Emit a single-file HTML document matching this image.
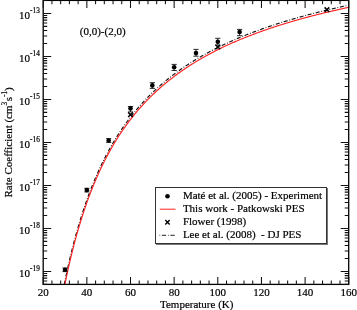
<!DOCTYPE html><html><head><meta charset="utf-8"><style>html,body{margin:0;padding:0;background:#fff;width:357px;height:310px;overflow:hidden}svg{display:block;filter:blur(0.35px)}text{font-family:"Liberation Serif",serif;fill:#000;stroke:#000;stroke-width:0.2px}</style></head><body>
<svg width="357" height="310" viewBox="0 0 357 310">
<defs><clipPath id="c"><rect x="43.2" y="0" width="305.5" height="284.4"/></clipPath></defs>
<g clip-path="url(#c)" fill="none">
<path d="M62.84,292.77 L63.39,289.93 L63.93,287.14 L64.48,284.39 L65.03,281.68 L65.57,279.02 L66.12,276.41 L66.66,273.83 L67.21,271.29 L67.75,268.79 L68.30,266.34 L68.84,263.91 L69.39,261.53 L69.94,259.18 L70.48,256.87 L71.03,254.59 L71.57,252.34 L72.12,250.13 L72.66,247.95 L73.21,245.80 L73.75,243.68 L74.30,241.60 L74.85,239.54 L75.39,237.51 L75.94,235.50 L76.48,233.53 L77.03,231.58 L77.57,229.66 L78.12,227.76 L78.67,225.89 L79.21,224.05 L79.76,222.23 L80.30,220.43 L80.85,218.65 L81.39,216.90 L81.94,215.17 L82.49,213.47 L83.03,211.78 L83.58,210.12 L84.12,208.48 L84.67,206.85 L85.21,205.25 L85.76,203.67 L86.30,202.10 L86.85,200.56 L87.40,199.03 L87.94,197.52 L88.49,196.03 L89.03,194.56 L89.58,193.10 L90.12,191.66 L90.67,190.24 L91.22,188.83 L91.76,187.44 L92.31,186.07 L92.85,184.71 L93.40,183.37 L93.94,182.04 L94.49,180.72 L95.03,179.42 L95.58,178.14 L96.13,176.87 L96.67,175.61 L97.22,174.37 L97.76,173.14 L98.31,171.92 L98.85,170.71 L99.40,169.52 L99.95,168.34 L100.49,167.17 L101.04,166.02 L101.58,164.87 L102.13,163.74 L102.67,162.62 L103.22,161.51 L103.76,160.41 L104.31,159.33 L104.86,158.25 L105.40,157.18 L105.95,156.13 L106.49,155.08 L107.04,154.05 L107.58,153.03 L108.13,152.01 L108.68,151.01 L109.22,150.01 L109.77,149.02 L110.31,148.05 L110.86,147.08 L111.40,146.12 L111.95,145.17 L112.49,144.23 L113.04,143.30 L113.59,142.37 L114.13,141.46 L114.68,140.55 L115.22,139.65 L115.77,138.76 L116.31,137.88 L116.86,137.00 L117.41,136.14 L117.95,135.28 L118.50,134.42 L119.04,133.58 L119.59,132.74 L120.13,131.91 L120.68,131.09 L121.22,130.27 L121.77,129.46 L122.32,128.66 L122.86,127.86 L123.41,127.08 L123.95,126.29 L124.50,125.52 L125.04,124.75 L125.59,123.99 L126.14,123.23 L126.68,122.48 L127.23,121.73 L127.77,120.99 L128.32,120.26 L128.86,119.54 L129.41,118.81 L129.95,118.10 L130.50,117.39 L131.05,116.69 L131.59,115.99 L132.14,115.29 L132.68,114.61 L133.23,113.93 L133.77,113.25 L134.32,112.58 L134.87,111.91 L135.41,111.25 L135.96,110.59 L136.50,109.94 L137.05,109.29 L137.59,108.65 L138.14,108.01 L138.68,107.38 L139.23,106.75 L139.78,106.13 L140.32,105.51 L140.87,104.90 L141.41,104.29 L141.96,103.68 L142.50,103.08 L143.05,102.49 L143.60,101.90 L144.14,101.31 L144.69,100.72 L145.23,100.14 L145.78,99.57 L146.32,99.00 L146.87,98.43 L147.41,97.87 L147.96,97.31 L148.51,96.75 L149.05,96.20 L149.60,95.65 L150.14,95.11 L150.69,94.57 L151.23,94.03 L151.78,93.50 L152.32,92.97 L152.87,92.44 L153.42,91.92 L153.96,91.40 L154.51,90.88 L155.05,90.37 L155.60,89.86 L156.14,89.35 L156.69,88.85 L157.24,88.35 L157.78,87.86 L158.33,87.36 L158.87,86.87 L159.42,86.39 L159.96,85.90 L160.51,85.42 L161.06,84.95 L161.60,84.47 L162.15,84.00 L162.69,83.53 L163.24,83.07 L163.78,82.61 L164.33,82.15 L164.87,81.69 L165.42,81.24 L165.97,80.78 L166.51,80.34 L167.06,79.89 L167.60,79.45 L168.15,79.01 L168.69,78.57 L169.24,78.14 L169.79,77.70 L170.33,77.27 L170.88,76.85 L171.42,76.42 L171.97,76.00 L172.51,75.58 L173.06,75.16 L173.60,74.75 L174.15,74.34 L174.70,73.93 L175.24,73.52 L175.79,73.11 L176.33,72.71 L176.88,72.31 L177.42,71.91 L177.97,71.52 L178.51,71.12 L179.06,70.73 L179.61,70.34 L180.15,69.96 L180.70,69.57 L181.24,69.19 L181.79,68.81 L182.33,68.43 L182.88,68.05 L183.43,67.68 L183.97,67.31 L184.52,66.94 L185.06,66.57 L185.61,66.20 L186.15,65.84 L186.70,65.48 L187.25,65.12 L187.79,64.76 L188.34,64.40 L188.88,64.05 L189.43,63.69 L189.97,63.34 L190.52,62.99 L191.06,62.65 L191.61,62.30 L192.16,61.96 L192.70,61.62 L193.25,61.28 L193.79,60.94 L194.34,60.60 L194.88,60.27 L195.43,59.94 L195.98,59.61 L196.52,59.28 L197.07,58.95 L197.61,58.62 L198.16,58.30 L198.70,57.98 L199.25,57.66 L199.79,57.34 L200.34,57.02 L200.89,56.70 L201.43,56.39 L201.98,56.08 L202.52,55.76 L203.07,55.45 L203.61,55.15 L204.16,54.84 L204.70,54.53 L205.25,54.23 L205.80,53.93 L206.34,53.63 L206.89,53.33 L207.43,53.03 L207.98,52.73 L208.52,52.44 L209.07,52.14 L209.62,51.85 L210.16,51.56 L210.71,51.27 L211.25,50.98 L211.80,50.70 L212.34,50.41 L212.89,50.13 L213.44,49.84 L213.98,49.56 L214.53,49.28 L215.07,49.00 L215.62,48.73 L216.16,48.45 L216.71,48.18 L217.25,47.90 L217.80,47.63 L218.35,47.36 L218.89,47.09 L219.44,46.82 L219.98,46.55 L220.53,46.29 L221.07,46.02 L221.62,45.76 L222.17,45.50 L222.71,45.23 L223.26,44.97 L223.80,44.71 L224.35,44.46 L224.89,44.20 L225.44,43.94 L225.98,43.69 L226.53,43.44 L227.08,43.18 L227.62,42.93 L228.17,42.68 L228.71,42.43 L229.26,42.19 L229.80,41.94 L230.35,41.69 L230.90,41.45 L231.44,41.21 L231.99,40.96 L232.53,40.72 L233.08,40.48 L233.62,40.24 L234.17,40.00 L234.71,39.77 L235.26,39.53 L235.81,39.29 L236.35,39.06 L236.90,38.83 L237.44,38.59 L237.99,38.36 L238.53,38.13 L239.08,37.90 L239.62,37.67 L240.17,37.45 L240.72,37.22 L241.26,36.99 L241.81,36.77 L242.35,36.54 L242.90,36.32 L243.44,36.10 L243.99,35.88 L244.54,35.66 L245.08,35.44 L245.63,35.22 L246.17,35.00 L246.72,34.79 L247.26,34.57 L247.81,34.35 L248.36,34.14 L248.90,33.93 L249.45,33.71 L249.99,33.50 L250.54,33.29 L251.08,33.08 L251.63,32.87 L252.17,32.66 L252.72,32.46 L253.27,32.25 L253.81,32.04 L254.36,31.84 L254.90,31.64 L255.45,31.43 L255.99,31.23 L256.54,31.03 L257.09,30.83 L257.63,30.63 L258.18,30.43 L258.72,30.23 L259.27,30.03 L259.81,29.83 L260.36,29.64 L260.90,29.44 L261.45,29.24 L262.00,29.05 L262.54,28.86 L263.09,28.66 L263.63,28.47 L264.18,28.28 L264.72,28.09 L265.27,27.90 L265.81,27.71 L266.36,27.52 L266.91,27.33 L267.45,27.15 L268.00,26.96 L268.54,26.77 L269.09,26.59 L269.63,26.40 L270.18,26.22 L270.73,26.04 L271.27,25.85 L271.82,25.67 L272.36,25.49 L272.91,25.31 L273.45,25.13 L274.00,24.95 L274.55,24.77 L275.09,24.60 L275.64,24.42 L276.18,24.24 L276.73,24.07 L277.27,23.89 L277.82,23.72 L278.36,23.54 L278.91,23.37 L279.46,23.20 L280.00,23.02 L280.55,22.85 L281.09,22.68 L281.64,22.51 L282.18,22.34 L282.73,22.17 L283.28,22.00 L283.82,21.83 L284.37,21.67 L284.91,21.50 L285.46,21.33 L286.00,21.17 L286.55,21.00 L287.09,20.84 L287.64,20.67 L288.19,20.51 L288.73,20.35 L289.28,20.18 L289.82,20.02 L290.37,19.86 L290.91,19.70 L291.46,19.54 L292.00,19.38 L292.55,19.22 L293.10,19.06 L293.64,18.90 L294.19,18.74 L294.73,18.59 L295.28,18.43 L295.82,18.28 L296.37,18.12 L296.92,17.96 L297.46,17.81 L298.01,17.66 L298.55,17.50 L299.10,17.35 L299.64,17.20 L300.19,17.04 L300.74,16.89 L301.28,16.74 L301.83,16.59 L302.37,16.44 L302.92,16.29 L303.46,16.14 L304.01,15.99 L304.55,15.85 L305.10,15.70 L305.65,15.55 L306.19,15.40 L306.74,15.26 L307.28,15.11 L307.83,14.97 L308.37,14.82 L308.92,14.68 L309.46,14.53 L310.01,14.39 L310.56,14.25 L311.10,14.10 L311.65,13.96 L312.19,13.82 L312.74,13.68 L313.28,13.54 L313.83,13.40 L314.38,13.26 L314.92,13.12 L315.47,12.98 L316.01,12.84 L316.56,12.70 L317.10,12.56 L317.65,12.43 L318.19,12.29 L318.74,12.15 L319.29,12.02 L319.83,11.88 L320.38,11.75 L320.92,11.61 L321.47,11.48 L322.01,11.34 L322.56,11.21 L323.11,11.07 L323.65,10.94 L324.20,10.81 L324.74,10.68 L325.29,10.55 L325.83,10.41 L326.38,10.28 L326.93,10.15 L327.47,10.02 L328.02,9.89 L328.56,9.76 L329.11,9.63 L329.65,9.51 L330.20,9.38 L330.74,9.25 L331.29,9.12 L331.84,8.99 L332.38,8.87 L332.93,8.74 L333.47,8.62 L334.02,8.49 L334.56,8.36 L335.11,8.24 L335.66,8.11 L336.20,7.99 L336.75,7.87 L337.29,7.74 L337.84,7.62 L338.38,7.50 L338.93,7.37 L339.47,7.25 L340.02,7.13 L340.57,7.01 L341.11,6.89 L341.66,6.77 L342.20,6.65 L342.75,6.53 L343.29,6.41 L343.84,6.29 L344.38,6.17 L344.93,6.05 L345.48,5.93 L346.02,5.81 L346.57,5.70 L347.11,5.58 L347.66,5.46 L348.20,5.34 L348.75,5.23" transform="translate(-0.2,0)" stroke="#111" stroke-width="1.15" stroke-dasharray="4,1.8,0.8,1.7"/>
<path d="M62.84,294.87 L63.39,292.03 L63.93,289.24 L64.48,286.49 L65.03,283.78 L65.57,281.12 L66.12,278.51 L66.66,275.93 L67.21,273.39 L67.75,270.89 L68.30,268.44 L68.84,266.01 L69.39,263.63 L69.94,261.28 L70.48,258.97 L71.03,256.69 L71.57,254.44 L72.12,252.23 L72.66,250.05 L73.21,247.90 L73.75,245.78 L74.30,243.70 L74.85,241.64 L75.39,239.61 L75.94,237.60 L76.48,235.63 L77.03,233.68 L77.57,231.76 L78.12,229.86 L78.67,227.99 L79.21,226.15 L79.76,224.33 L80.30,222.53 L80.85,220.75 L81.39,219.00 L81.94,217.27 L82.49,215.57 L83.03,213.88 L83.58,212.22 L84.12,210.58 L84.67,208.95 L85.21,207.35 L85.76,205.77 L86.30,204.20 L86.85,202.66 L87.40,201.13 L87.94,199.62 L88.49,198.13 L89.03,196.66 L89.58,195.20 L90.12,193.76 L90.67,192.34 L91.22,190.93 L91.76,189.54 L92.31,188.17 L92.85,186.81 L93.40,185.47 L93.94,184.14 L94.49,182.82 L95.03,181.52 L95.58,180.24 L96.13,178.97 L96.67,177.71 L97.22,176.47 L97.76,175.24 L98.31,174.02 L98.85,172.81 L99.40,171.62 L99.95,170.44 L100.49,169.27 L101.04,168.12 L101.58,166.97 L102.13,165.84 L102.67,164.72 L103.22,163.61 L103.76,162.51 L104.31,161.43 L104.86,160.35 L105.40,159.28 L105.95,158.23 L106.49,157.18 L107.04,156.15 L107.58,155.13 L108.13,154.11 L108.68,153.11 L109.22,152.11 L109.77,151.12 L110.31,150.15 L110.86,149.18 L111.40,148.22 L111.95,147.27 L112.49,146.33 L113.04,145.40 L113.59,144.47 L114.13,143.56 L114.68,142.65 L115.22,141.75 L115.77,140.86 L116.31,139.98 L116.86,139.10 L117.41,138.24 L117.95,137.38 L118.50,136.52 L119.04,135.68 L119.59,134.84 L120.13,134.01 L120.68,133.19 L121.22,132.37 L121.77,131.56 L122.32,130.76 L122.86,129.96 L123.41,129.18 L123.95,128.39 L124.50,127.62 L125.04,126.85 L125.59,126.09 L126.14,125.33 L126.68,124.58 L127.23,123.83 L127.77,123.09 L128.32,122.36 L128.86,121.64 L129.41,120.91 L129.95,120.20 L130.50,119.49 L131.05,118.79 L131.59,118.09 L132.14,117.39 L132.68,116.71 L133.23,116.03 L133.77,115.35 L134.32,114.68 L134.87,114.01 L135.41,113.35 L135.96,112.69 L136.50,112.04 L137.05,111.39 L137.59,110.75 L138.14,110.11 L138.68,109.48 L139.23,108.85 L139.78,108.23 L140.32,107.61 L140.87,107.00 L141.41,106.39 L141.96,105.78 L142.50,105.18 L143.05,104.59 L143.60,104.00 L144.14,103.41 L144.69,102.82 L145.23,102.24 L145.78,101.67 L146.32,101.10 L146.87,100.53 L147.41,99.97 L147.96,99.41 L148.51,98.85 L149.05,98.30 L149.60,97.75 L150.14,97.21 L150.69,96.67 L151.23,96.13 L151.78,95.60 L152.32,95.07 L152.87,94.54 L153.42,94.02 L153.96,93.50 L154.51,92.98 L155.05,92.47 L155.60,91.96 L156.14,91.45 L156.69,90.95 L157.24,90.45 L157.78,89.96 L158.33,89.46 L158.87,88.97 L159.42,88.49 L159.96,88.00 L160.51,87.52 L161.06,87.05 L161.60,86.57 L162.15,86.10 L162.69,85.63 L163.24,85.17 L163.78,84.71 L164.33,84.25 L164.87,83.79 L165.42,83.34 L165.97,82.88 L166.51,82.44 L167.06,81.99 L167.60,81.55 L168.15,81.11 L168.69,80.67 L169.24,80.24 L169.79,79.80 L170.33,79.37 L170.88,78.95 L171.42,78.52 L171.97,78.10 L172.51,77.68 L173.06,77.26 L173.60,76.85 L174.15,76.44 L174.70,76.03 L175.24,75.62 L175.79,75.21 L176.33,74.81 L176.88,74.41 L177.42,74.01 L177.97,73.62 L178.51,73.22 L179.06,72.83 L179.61,72.44 L180.15,72.06 L180.70,71.67 L181.24,71.29 L181.79,70.91 L182.33,70.53 L182.88,70.15 L183.43,69.78 L183.97,69.41 L184.52,69.04 L185.06,68.67 L185.61,68.30 L186.15,67.94 L186.70,67.58 L187.25,67.22 L187.79,66.86 L188.34,66.50 L188.88,66.15 L189.43,65.79 L189.97,65.44 L190.52,65.09 L191.06,64.75 L191.61,64.40 L192.16,64.06 L192.70,63.72 L193.25,63.38 L193.79,63.04 L194.34,62.70 L194.88,62.37 L195.43,62.04 L195.98,61.71 L196.52,61.38 L197.07,61.05 L197.61,60.72 L198.16,60.40 L198.70,60.08 L199.25,59.76 L199.79,59.44 L200.34,59.12 L200.89,58.80 L201.43,58.49 L201.98,58.18 L202.52,57.86 L203.07,57.55 L203.61,57.25 L204.16,56.94 L204.70,56.63 L205.25,56.33 L205.80,56.03 L206.34,55.73 L206.89,55.43 L207.43,55.13 L207.98,54.83 L208.52,54.54 L209.07,54.24 L209.62,53.95 L210.16,53.66 L210.71,53.37 L211.25,53.08 L211.80,52.80 L212.34,52.51 L212.89,52.23 L213.44,51.94 L213.98,51.66 L214.53,51.38 L215.07,51.10 L215.62,50.83 L216.16,50.55 L216.71,50.28 L217.25,50.00 L217.80,49.73 L218.35,49.46 L218.89,49.19 L219.44,48.92 L219.98,48.65 L220.53,48.39 L221.07,48.12 L221.62,47.86 L222.17,47.60 L222.71,47.33 L223.26,47.07 L223.80,46.81 L224.35,46.56 L224.89,46.30 L225.44,46.04 L225.98,45.79 L226.53,45.54 L227.08,45.28 L227.62,45.03 L228.17,44.78 L228.71,44.53 L229.26,44.29 L229.80,44.04 L230.35,43.79 L230.90,43.55 L231.44,43.31 L231.99,43.06 L232.53,42.82 L233.08,42.58 L233.62,42.34 L234.17,42.10 L234.71,41.87 L235.26,41.63 L235.81,41.39 L236.35,41.16 L236.90,40.93 L237.44,40.69 L237.99,40.46 L238.53,40.23 L239.08,40.00 L239.62,39.77 L240.17,39.55 L240.72,39.32 L241.26,39.09 L241.81,38.87 L242.35,38.64 L242.90,38.42 L243.44,38.20 L243.99,37.98 L244.54,37.76 L245.08,37.54 L245.63,37.32 L246.17,37.10 L246.72,36.89 L247.26,36.67 L247.81,36.45 L248.36,36.24 L248.90,36.03 L249.45,35.81 L249.99,35.60 L250.54,35.39 L251.08,35.18 L251.63,34.97 L252.17,34.76 L252.72,34.56 L253.27,34.35 L253.81,34.14 L254.36,33.94 L254.90,33.74 L255.45,33.53 L255.99,33.33 L256.54,33.13 L257.09,32.93 L257.63,32.73 L258.18,32.53 L258.72,32.33 L259.27,32.13 L259.81,31.93 L260.36,31.74 L260.90,31.54 L261.45,31.34 L262.00,31.15 L262.54,30.96 L263.09,30.76 L263.63,30.57 L264.18,30.38 L264.72,30.19 L265.27,30.00 L265.81,29.81 L266.36,29.62 L266.91,29.43 L267.45,29.25 L268.00,29.06 L268.54,28.87 L269.09,28.69 L269.63,28.50 L270.18,28.32 L270.73,28.14 L271.27,27.95 L271.82,27.77 L272.36,27.59 L272.91,27.41 L273.45,27.23 L274.00,27.05 L274.55,26.87 L275.09,26.70 L275.64,26.52 L276.18,26.34 L276.73,26.17 L277.27,25.99 L277.82,25.82 L278.36,25.64 L278.91,25.47 L279.46,25.30 L280.00,25.12 L280.55,24.95 L281.09,24.78 L281.64,24.61 L282.18,24.44 L282.73,24.27 L283.28,24.10 L283.82,23.93 L284.37,23.77 L284.91,23.60 L285.46,23.43 L286.00,23.27 L286.55,23.10 L287.09,22.94 L287.64,22.77 L288.19,22.61 L288.73,22.45 L289.28,22.28 L289.82,22.12 L290.37,21.96 L290.91,21.80 L291.46,21.64 L292.00,21.48 L292.55,21.32 L293.10,21.16 L293.64,21.00 L294.19,20.84 L294.73,20.69 L295.28,20.53 L295.82,20.38 L296.37,20.22 L296.92,20.06 L297.46,19.91 L298.01,19.76 L298.55,19.60 L299.10,19.45 L299.64,19.30 L300.19,19.14 L300.74,18.99 L301.28,18.84 L301.83,18.69 L302.37,18.54 L302.92,18.39 L303.46,18.24 L304.01,18.09 L304.55,17.95 L305.10,17.80 L305.65,17.65 L306.19,17.50 L306.74,17.36 L307.28,17.21 L307.83,17.07 L308.37,16.92 L308.92,16.78 L309.46,16.63 L310.01,16.49 L310.56,16.35 L311.10,16.20 L311.65,16.06 L312.19,15.92 L312.74,15.78 L313.28,15.64 L313.83,15.50 L314.38,15.36 L314.92,15.22 L315.47,15.08 L316.01,14.94 L316.56,14.80 L317.10,14.66 L317.65,14.53 L318.19,14.39 L318.74,14.25 L319.29,14.12 L319.83,13.98 L320.38,13.85 L320.92,13.71 L321.47,13.58 L322.01,13.44 L322.56,13.31 L323.11,13.17 L323.65,13.04 L324.20,12.91 L324.74,12.78 L325.29,12.65 L325.83,12.51 L326.38,12.38 L326.93,12.25 L327.47,12.12 L328.02,11.99 L328.56,11.86 L329.11,11.73 L329.65,11.61 L330.20,11.48 L330.74,11.35 L331.29,11.22 L331.84,11.09 L332.38,10.97 L332.93,10.84 L333.47,10.72 L334.02,10.59 L334.56,10.46 L335.11,10.34 L335.66,10.21 L336.20,10.09 L336.75,9.97 L337.29,9.84 L337.84,9.72 L338.38,9.60 L338.93,9.47 L339.47,9.35 L340.02,9.23 L340.57,9.11 L341.11,8.99 L341.66,8.87 L342.20,8.75 L342.75,8.63 L343.29,8.51 L343.84,8.39 L344.38,8.27 L344.93,8.15 L345.48,8.03 L346.02,7.91 L346.57,7.80 L347.11,7.68 L347.66,7.56 L348.20,7.44 L348.75,7.33" stroke="#f22" stroke-width="1.15"/>
</g>
<g stroke="#000" stroke-width="1.3" fill="none">
<rect x="43.2" y="0.4" width="305.5" height="284.0"/>
<path d="M43.20,284.4v-7.5M43.20,0.4v7.5M51.93,284.4v-3.8M51.93,0.4v3.8M60.66,284.4v-3.8M60.66,0.4v3.8M69.39,284.4v-3.8M69.39,0.4v3.8M78.12,284.4v-3.8M78.12,0.4v3.8M86.85,284.4v-7.5M86.85,0.4v7.5M95.58,284.4v-3.8M95.58,0.4v3.8M104.31,284.4v-3.8M104.31,0.4v3.8M113.04,284.4v-3.8M113.04,0.4v3.8M121.77,284.4v-3.8M121.77,0.4v3.8M130.50,284.4v-7.5M130.50,0.4v7.5M139.23,284.4v-3.8M139.23,0.4v3.8M147.96,284.4v-3.8M147.96,0.4v3.8M156.69,284.4v-3.8M156.69,0.4v3.8M165.42,284.4v-3.8M165.42,0.4v3.8M174.15,284.4v-7.5M174.15,0.4v7.5M182.88,284.4v-3.8M182.88,0.4v3.8M191.61,284.4v-3.8M191.61,0.4v3.8M200.34,284.4v-3.8M200.34,0.4v3.8M209.07,284.4v-3.8M209.07,0.4v3.8M217.80,284.4v-7.5M217.80,0.4v7.5M226.53,284.4v-3.8M226.53,0.4v3.8M235.26,284.4v-3.8M235.26,0.4v3.8M243.99,284.4v-3.8M243.99,0.4v3.8M252.72,284.4v-3.8M252.72,0.4v3.8M261.45,284.4v-7.5M261.45,0.4v7.5M270.18,284.4v-3.8M270.18,0.4v3.8M278.91,284.4v-3.8M278.91,0.4v3.8M287.64,284.4v-3.8M287.64,0.4v3.8M296.37,284.4v-3.8M296.37,0.4v3.8M305.10,284.4v-7.5M305.10,0.4v7.5M313.83,284.4v-3.8M313.83,0.4v3.8M322.56,284.4v-3.8M322.56,0.4v3.8M331.29,284.4v-3.8M331.29,0.4v3.8M340.02,284.4v-3.8M340.02,0.4v3.8M348.75,284.4v-7.5M348.75,0.4v7.5M43.2,284.39h4M348.7,284.39h-4M43.2,280.99h4M348.7,280.99h-4M43.2,278.11h4M348.7,278.11h-4M43.2,275.62h4M348.7,275.62h-4M43.2,273.42h4M348.7,273.42h-4M43.2,271.45h8M348.7,271.45h-8M43.2,258.51h4M348.7,258.51h-4M43.2,250.93h4M348.7,250.93h-4M43.2,245.56h4M348.7,245.56h-4M43.2,241.39h4M348.7,241.39h-4M43.2,237.99h4M348.7,237.99h-4M43.2,235.11h4M348.7,235.11h-4M43.2,232.62h4M348.7,232.62h-4M43.2,230.42h4M348.7,230.42h-4M43.2,228.45h8M348.7,228.45h-8M43.2,215.51h4M348.7,215.51h-4M43.2,207.93h4M348.7,207.93h-4M43.2,202.56h4M348.7,202.56h-4M43.2,198.39h4M348.7,198.39h-4M43.2,194.99h4M348.7,194.99h-4M43.2,192.11h4M348.7,192.11h-4M43.2,189.62h4M348.7,189.62h-4M43.2,187.42h4M348.7,187.42h-4M43.2,185.45h8M348.7,185.45h-8M43.2,172.51h4M348.7,172.51h-4M43.2,164.93h4M348.7,164.93h-4M43.2,159.56h4M348.7,159.56h-4M43.2,155.39h4M348.7,155.39h-4M43.2,151.99h4M348.7,151.99h-4M43.2,149.11h4M348.7,149.11h-4M43.2,146.62h4M348.7,146.62h-4M43.2,144.42h4M348.7,144.42h-4M43.2,142.45h8M348.7,142.45h-8M43.2,129.51h4M348.7,129.51h-4M43.2,121.93h4M348.7,121.93h-4M43.2,116.56h4M348.7,116.56h-4M43.2,112.39h4M348.7,112.39h-4M43.2,108.99h4M348.7,108.99h-4M43.2,106.11h4M348.7,106.11h-4M43.2,103.62h4M348.7,103.62h-4M43.2,101.42h4M348.7,101.42h-4M43.2,99.45h8M348.7,99.45h-8M43.2,86.51h4M348.7,86.51h-4M43.2,78.93h4M348.7,78.93h-4M43.2,73.56h4M348.7,73.56h-4M43.2,69.39h4M348.7,69.39h-4M43.2,65.99h4M348.7,65.99h-4M43.2,63.11h4M348.7,63.11h-4M43.2,60.62h4M348.7,60.62h-4M43.2,58.42h4M348.7,58.42h-4M43.2,56.45h8M348.7,56.45h-8M43.2,43.51h4M348.7,43.51h-4M43.2,35.93h4M348.7,35.93h-4M43.2,30.56h4M348.7,30.56h-4M43.2,26.39h4M348.7,26.39h-4M43.2,22.99h4M348.7,22.99h-4M43.2,20.11h4M348.7,20.11h-4M43.2,17.62h4M348.7,17.62h-4M43.2,15.42h4M348.7,15.42h-4M43.2,13.45h8M348.7,13.45h-8M43.2,0.51h4M348.7,0.51h-4" stroke="#111" stroke-width="1.05"/>
</g>
<text x="43.20" y="295.8" font-size="11" text-anchor="middle">20</text>
<text x="86.85" y="295.8" font-size="11" text-anchor="middle">40</text>
<text x="130.50" y="295.8" font-size="11" text-anchor="middle">60</text>
<text x="174.15" y="295.8" font-size="11" text-anchor="middle">80</text>
<text x="217.80" y="295.8" font-size="11" text-anchor="middle">100</text>
<text x="261.45" y="295.8" font-size="11" text-anchor="middle">120</text>
<text x="305.10" y="295.8" font-size="11" text-anchor="middle">140</text>
<text x="348.75" y="295.8" font-size="11" text-anchor="middle">160</text>
<text x="39.8" y="277.35" font-size="11" text-anchor="end">10<tspan font-size="7.3" dy="-6.5">-19</tspan></text>
<text x="39.8" y="234.35" font-size="11" text-anchor="end">10<tspan font-size="7.3" dy="-6.5">-18</tspan></text>
<text x="39.8" y="191.35" font-size="11" text-anchor="end">10<tspan font-size="7.3" dy="-6.5">-17</tspan></text>
<text x="39.8" y="148.35" font-size="11" text-anchor="end">10<tspan font-size="7.3" dy="-6.5">-16</tspan></text>
<text x="39.8" y="105.35" font-size="11" text-anchor="end">10<tspan font-size="7.3" dy="-6.5">-15</tspan></text>
<text x="39.8" y="62.35" font-size="11" text-anchor="end">10<tspan font-size="7.3" dy="-6.5">-14</tspan></text>
<text x="39.8" y="19.35" font-size="11" text-anchor="end">10<tspan font-size="7.3" dy="-6.5">-13</tspan></text>
<text x="160" y="307.5" font-size="11">Temperature (K)</text>
<text transform="translate(12.3,197.5) rotate(-90)" font-size="11">Rate Coefficient (cm<tspan font-size="7.3" dy="-5.7">3</tspan><tspan dy="5.7" dx="0.5">s</tspan><tspan font-size="7.3" dy="-5.7">-1</tspan><tspan dy="5.7">)</tspan></text>
<text x="79.8" y="34.7" font-size="11">(0,0)-(2,0)</text>
<path d="M65.03,268.0V271.6M62.43,268.0h5.2M62.43,271.6h5.2" stroke="#222" stroke-width="0.95" fill="none"/>
<circle cx="65.03" cy="269.8" r="2.3" fill="#000"/>
<path d="M86.85,188.3V191.9M84.25,188.3h5.2M84.25,191.9h5.2" stroke="#222" stroke-width="0.95" fill="none"/>
<circle cx="86.85" cy="190.1" r="2.3" fill="#000"/>
<path d="M108.68,138.6V142.4M106.08,138.6h5.2M106.08,142.4h5.2" stroke="#222" stroke-width="0.95" fill="none"/>
<circle cx="108.68" cy="140.5" r="2.3" fill="#000"/>
<path d="M130.50,106.5V111.9M127.90,106.5h5.2M127.90,111.9h5.2" stroke="#222" stroke-width="0.95" fill="none"/>
<circle cx="130.50" cy="108.4" r="2.3" fill="#000"/>
<path d="M152.32,82.7V88.4M149.72,82.7h5.2M149.72,88.4h5.2" stroke="#222" stroke-width="0.95" fill="none"/>
<circle cx="152.32" cy="85.4" r="2.3" fill="#000"/>
<path d="M174.15,64.4V70.5M171.55,64.4h5.2M171.55,70.5h5.2" stroke="#222" stroke-width="0.95" fill="none"/>
<circle cx="174.15" cy="67.3" r="2.3" fill="#000"/>
<path d="M195.98,49.4V56.2M193.38,49.4h5.2M193.38,56.2h5.2" stroke="#222" stroke-width="0.95" fill="none"/>
<circle cx="195.98" cy="53.1" r="2.3" fill="#000"/>
<path d="M217.80,38.3V45.1M215.20,38.3h5.2M215.20,45.1h5.2" stroke="#222" stroke-width="0.95" fill="none"/>
<circle cx="217.80" cy="41.7" r="2.3" fill="#000"/>
<path d="M239.62,29.4V35.7M237.03,29.4h5.2M237.03,35.7h5.2" stroke="#222" stroke-width="0.95" fill="none"/>
<circle cx="239.62" cy="32.0" r="2.3" fill="#000"/>
<path d="M128.15,112.40l4.7,4.6M128.15,117.00l4.7,-4.6" stroke="#000" stroke-width="1.5" fill="none"/>
<path d="M215.45,44.70l4.7,4.6M215.45,49.30l4.7,-4.6" stroke="#000" stroke-width="1.5" fill="none"/>
<path d="M324.57,7.40l4.7,4.6M324.57,12.00l4.7,-4.6" stroke="#000" stroke-width="1.5" fill="none"/>
<rect x="156" y="188" width="172" height="57" fill="#777"/>
<rect x="155.5" y="187.5" width="171" height="56" fill="#fff" stroke="#333" stroke-width="1"/>
<circle cx="167.5" cy="196.3" r="2.3" fill="#000"/>
<path d="M159.8,209.2H175.5" stroke="#f22" stroke-width="1.0"/>
<path d="M165.3,220.1l4.4,4.4M165.3,224.5l4.4,-4.4" stroke="#000" stroke-width="1.4"/>
<path d="M159.5,235.3H175.2" stroke="#222" stroke-width="1.0" stroke-dasharray="4.3,1.8,0.7,1.7" stroke-dashoffset="6.1"/>
<text x="182.9" y="198.70" font-size="11" xml:space="preserve">Maté et al. (2005) - Experiment</text>
<text x="182.9" y="211.80" font-size="11" xml:space="preserve">This work - Patkowski PES</text>
<text x="182.9" y="224.90" font-size="11" xml:space="preserve">Flower (1998)</text>
<text x="182.9" y="238.00" font-size="11" xml:space="preserve">Lee et al. (2008)  - DJ PES</text>
</svg></body></html>
